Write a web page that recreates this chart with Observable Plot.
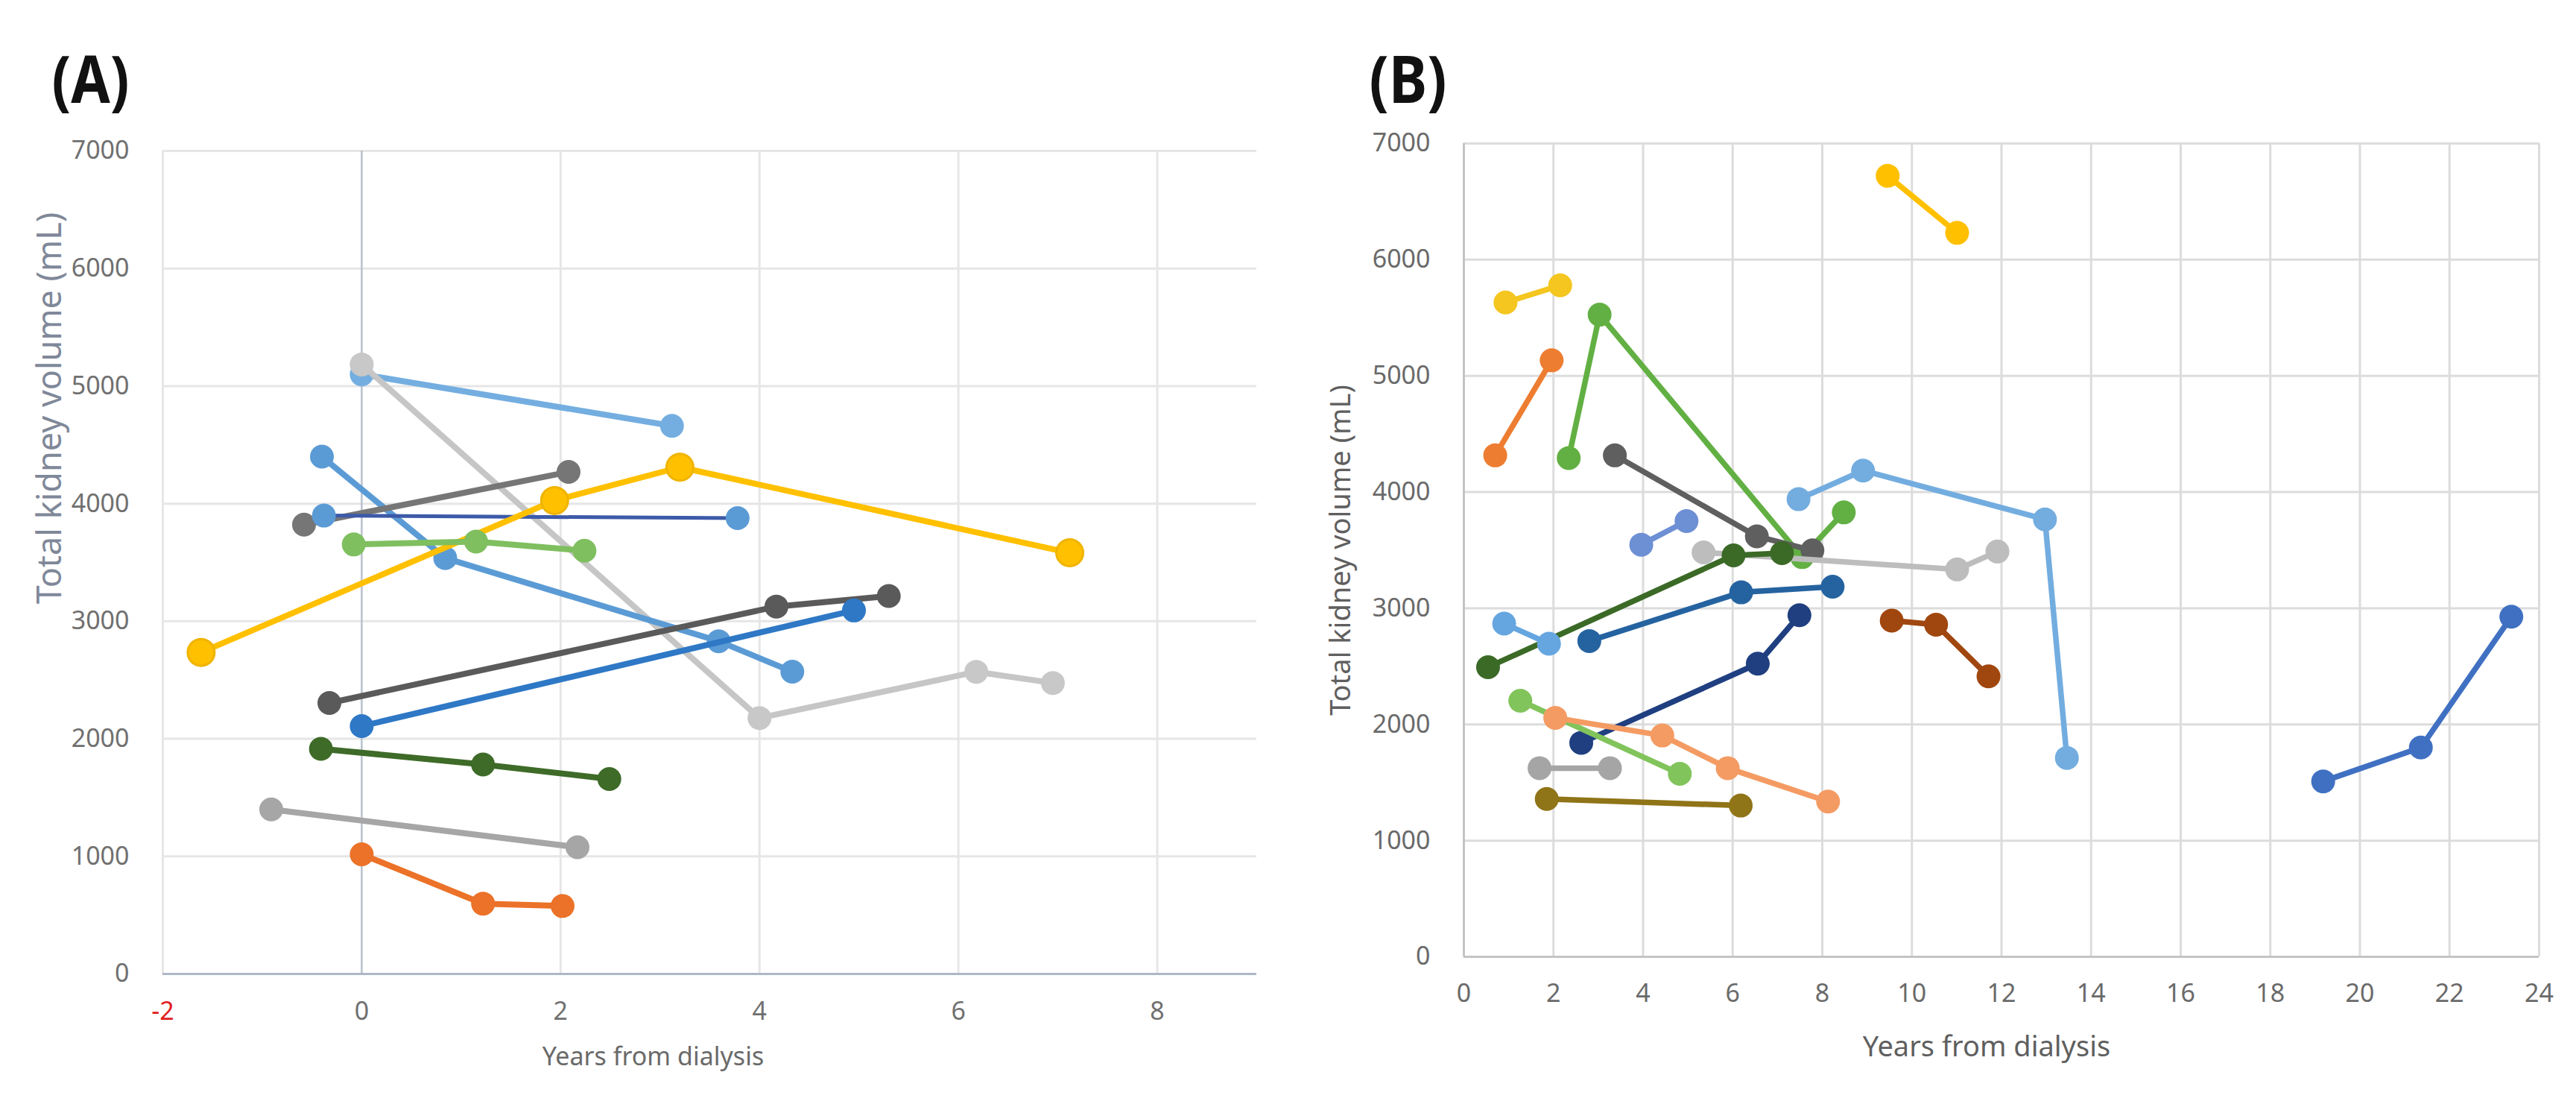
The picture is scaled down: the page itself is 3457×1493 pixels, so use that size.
<!DOCTYPE html>
<html><head><meta charset="utf-8">
<script src="https://cdn.jsdelivr.net/npm/d3@7"></script>
<script src="https://cdn.jsdelivr.net/npm/@observablehq/plot@0.6"></script>
<style>
html,body{margin:0;padding:0;background:#fff;}
#wrap{position:relative;width:3457px;height:1493px;overflow:hidden;background:#fff;}
#a{position:absolute;left:0;top:0;}
#b{position:absolute;left:1740px;top:0;}
</style></head>
<body><div id="wrap"><div id="a"></div><div id="b"></div></div>
<script>
// ---------- Panel A data: [years from dialysis, total kidney volume mL] ----------
const a01 = [[0, 5100], [3.12, 4662]];
const a02 = [[0, 5184], [4.0, 2177], [6.18, 2570], [6.95, 2475]];
const a03 = [[-0.40, 4400], [0.84, 3537], [3.59, 2830], [4.33, 2571]];
const a04 = [[-0.58, 3822], [2.08, 4270]];
const a05 = [[-0.38, 3899], [3.78, 3877]];
const a06 = [[-1.615, 2735], [1.94, 4027], [3.20, 4310], [7.12, 3582]];
const a07 = [[-0.08, 3653], [1.15, 3678], [2.24, 3600]];
const a08 = [[-0.325, 2305], [4.17, 3125], [5.30, 3215]];
const a09 = [[0, 2108], [4.95, 3092]];
const a10 = [[-0.41, 1915], [1.22, 1782], [2.49, 1658]];
const a11 = [[-0.91, 1400], [2.17, 1078]];
const a12 = [[0, 1018], [1.22, 598], [2.02, 578]];
const seriesA = [a01, a02, a03, a04, a05, a06, a07, a08, a09, a10, a11, a12];
const lineColorsA = ["#74aee0", "#c6c6c6", "#5b9bd5", "#767676", "#3c5aa8", "#ffc000", "#7fbf5f", "#5a5a5a", "#2e78c6", "#3e6b28", "#a6a6a6", "#eb7228"];
const dotColorsA  = ["#74aee0", "#c8c8c8", "#5b9bd5", "#767676", "#5b9bd5", "#ffc000", "#7fbf5f", "#5a5a5a", "#2e78c6", "#3e6b28", "#a6a6a6", "#eb7228"];
const xTicksA = [-2, 0, 2, 4, 6, 8];
const yTicks = [0, 1000, 2000, 3000, 4000, 5000, 6000, 7000];

// ---------- Panel B data ----------
const b01 = [[9.46, 6722], [11.01, 6231]];
const b02 = [[0.93, 5632], [2.15, 5779]];
const b03 = [[0.70, 4316], [1.96, 5134]];
const b04 = [[2.34, 4293], [3.03, 5527], [7.55, 3440], [8.48, 3825]];
const b05 = [[3.37, 4316], [6.54, 3619], [7.78, 3498]];
const b06 = [[3.96, 3547], [4.97, 3750]];
const b07 = [[7.47, 3939], [8.91, 4185], [12.97, 3765], [13.46, 1712]];
const b08 = [[5.35, 3481], [11.01, 3334], [11.91, 3488]];
const b09 = [[0.54, 2493], [6.02, 3455], [7.10, 3475]];
const b10 = [[2.80, 2718], [6.19, 3137], [8.23, 3186]];
const b11 = [[2.62, 1842], [6.56, 2523], [7.49, 2940]];
const b12 = [[0.90, 2868], [1.90, 2695]];
const b13 = [[9.55, 2894], [10.54, 2859], [11.71, 2414]];
const b14 = [[1.26, 2204], [4.82, 1575]];
const b15 = [[2.04, 2057], [4.43, 1905], [5.89, 1624], [8.13, 1336]];
const b16 = [[1.69, 1624], [3.26, 1624]];
const b17 = [[1.85, 1359], [6.18, 1302]];
const b18 = [[19.18, 1510], [21.36, 1801], [23.38, 2927]];
const seriesB = [b01, b02, b03, b04, b05, b06, b07, b08, b09, b10, b11, b12, b13, b14, b15, b16, b17, b18];
const colorsB = ["#ffc000", "#f4c61f", "#ed7d31", "#62b043", "#5f5f5f", "#6d8fd4", "#73ade0", "#bdbdbd", "#3b6a27",
                 "#2563a0", "#1f3f80", "#66a6e0", "#a0460f", "#82c45c", "#f49b63", "#a5a5a5", "#8f7418", "#4070c2"];
const xTicksB = [0, 2, 4, 6, 8, 10, 12, 14, 16, 18, 20, 22, 24];

const xTitle = "Years from dialysis";
const yTitle = "Total kidney volume (mL)";
const FONT = "'Noto Sans', 'Open Sans', sans-serif";
const LETTER_FONT = "'Noto Sans', 'DejaVu Sans', sans-serif";
const plain = d => String(d);

function seriesMarks(series, lineColors, dotColors, opts) {
  return series.flatMap((pts, i) => {
    const big = opts.big && opts.big.includes(i);
    const thin = opts.thin && opts.thin.includes(i);
    return [
      Plot.line(pts, {x: d => d[0], y: d => d[1], stroke: lineColors[i],
        strokeWidth: thin ? 5 : opts.w, strokeLinejoin: "round", strokeLinecap: "round"}),
      Plot.dot(pts, {x: d => d[0], y: d => d[1], r: big ? opts.r + 2 : opts.r,
        fill: dotColors[i], stroke: big ? "#f0b400" : "none", strokeWidth: 3})
    ];
  });
}

function squeezeLetter(svg, label, width) {
  d3.select(svg).selectAll("text").filter(function() { return this.textContent === label; })
    .attr("textLength", width).attr("lengthAdjust", "spacingAndGlyphs");
}

// ---------- Panel A ----------
const chartA = Plot.plot({
  width: 1740, height: 1493,
  marginLeft: 218, marginRight: 54, marginTop: 202, marginBottom: 187,
  x: {domain: [-2, 9]},
  y: {domain: [0, 7000]},
  style: {fontFamily: FONT, fontSize: "34px", background: "transparent", overflow: "visible"},
  marks: [
    Plot.ruleY(yTicks.filter(d => d > 0), {stroke: "#e6e6e6", strokeWidth: 3}),
    Plot.ruleX(xTicksA.filter(d => d !== 0), {stroke: "#e6e6e6", strokeWidth: 3}),
    Plot.ruleX([0], {stroke: "#b8c1cd", strokeWidth: 2.5}),
    Plot.ruleY([0], {stroke: "#aeb7c5", strokeWidth: 3}),
    Plot.axisY(yTicks, {anchor: "left", tickSize: 0, tickPadding: 45, fontSize: 34, tickFormat: plain, fill: "#707070", color: "#707070", label: null}),
    Plot.axisX(xTicksA.filter(d => d !== -2), {anchor: "bottom", tickSize: 0, tickPadding: 37, fontSize: 34, tickFormat: plain, fill: "#707070", color: "#707070", label: null}),
    Plot.axisX([-2], {anchor: "bottom", tickSize: 0, tickPadding: 37, fontSize: 34, tickFormat: plain, fill: "#e0201c", color: "#e0201c", label: null}),
    ...seriesMarks(seriesA, lineColorsA, dotColorsA, {r: 16, w: 8, thin: [4], big: [5]}),
    Plot.text([xTitle], {frameAnchor: "bottom", dx: -76, dy: 122, fontSize: 34, fill: "#6a6a6a"}),
    Plot.text([yTitle], {frameAnchor: "left", textAnchor: "middle", rotate: -90, dx: -151, dy: -207, fontSize: 45, fill: "#7f8899"}),
    Plot.text(["(A)"], {frameAnchor: "top-left", textAnchor: "start", dx: -149, dy: -127, fontSize: 88, fontWeight: "bold", fontFamily: LETTER_FONT, fill: "#111"})
  ]
});
squeezeLetter(chartA, "(A)", 104);
document.getElementById("a").append(chartA);

// ---------- Panel B ----------
const chartB = Plot.plot({
  width: 1717, height: 1493,
  marginLeft: 224, marginRight: 50, marginTop: 192, marginBottom: 210,
  x: {domain: [0, 24]},
  y: {domain: [0, 7000]},
  style: {fontFamily: FONT, fontSize: "34px", background: "transparent", overflow: "visible"},
  marks: [
    Plot.ruleY(yTicks.filter(d => d > 0), {stroke: "#dcdcdc", strokeWidth: 3}),
    Plot.ruleX(xTicksB.filter(d => d > 0), {stroke: "#dcdcdc", strokeWidth: 3}),
    Plot.ruleX([0], {stroke: "#c4c4c4", strokeWidth: 3}),
    Plot.ruleY([0], {stroke: "#c4c4c4", strokeWidth: 3}),
    Plot.axisY(yTicks, {anchor: "left", tickSize: 0, tickPadding: 45, fontSize: 34, tickFormat: plain, fill: "#6a6a6a", color: "#6a6a6a", label: null}),
    Plot.axisX(xTicksB, {anchor: "bottom", tickSize: 0, tickPadding: 36, fontSize: 34, tickFormat: plain, fill: "#6a6a6a", color: "#6a6a6a", label: null}),
    ...seriesMarks(seriesB, colorsB, colorsB, {r: 16, w: 7.5}),
    Plot.text([xTitle], {frameAnchor: "bottom", dx: -20, dy: 133, fontSize: 38, fill: "#5f5f5f"}),
    Plot.text([yTitle], {frameAnchor: "left", textAnchor: "middle", rotate: -90, dx: -165, dy: 0, fontSize: 38, fill: "#5f5f5f"}),
    Plot.text(["(B)"], {frameAnchor: "top-left", textAnchor: "start", dx: -127, dy: -117, fontSize: 88, fontWeight: "bold", fontFamily: LETTER_FONT, fill: "#111"})
  ]
});
squeezeLetter(chartB, "(B)", 104);
document.getElementById("b").append(chartB);
</script>
</body></html>
